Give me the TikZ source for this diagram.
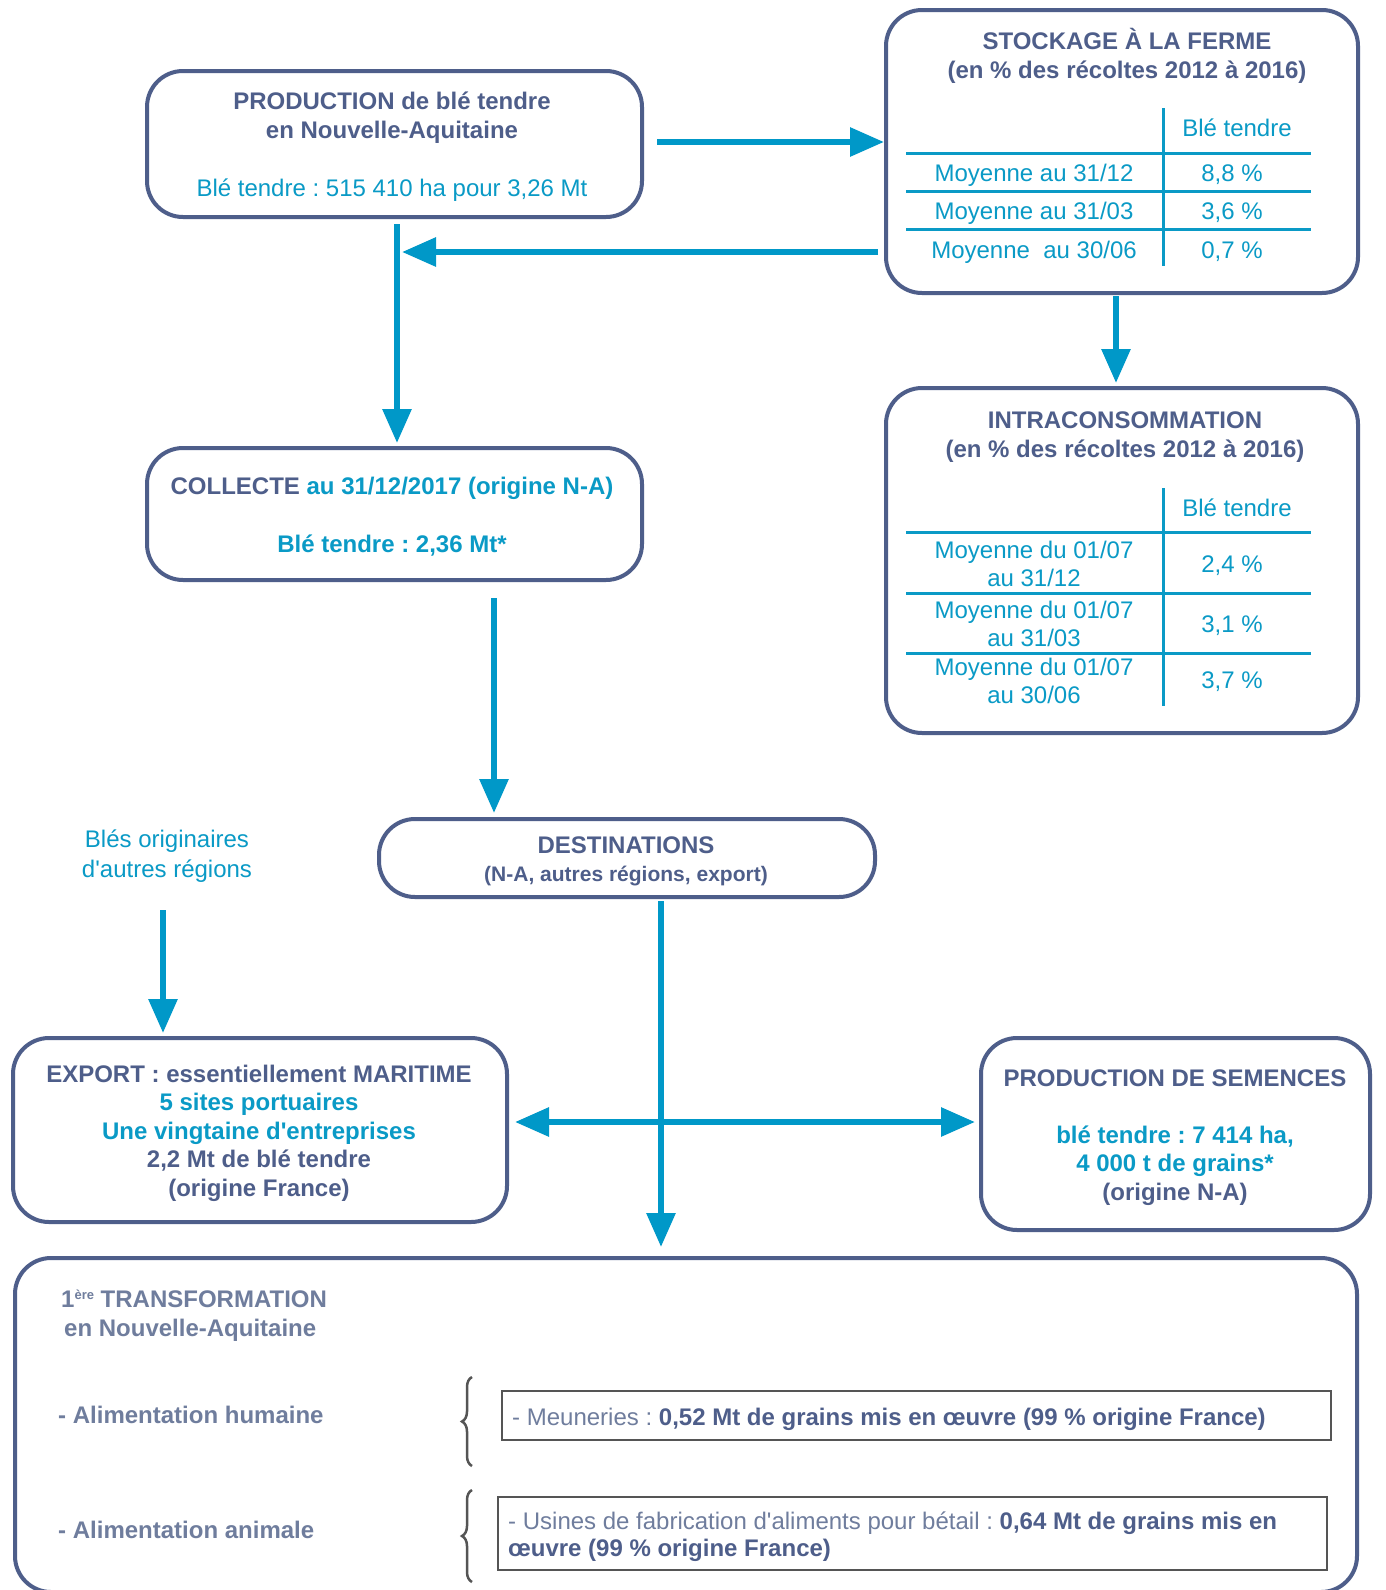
\documentclass[tikz,border=0pt]{standalone}
\usepackage{fontspec}
\setmainfont{Liberation Sans}
\usetikzlibrary{arrows.meta,decorations.pathreplacing}
\definecolor{navy}{HTML}{4E5E8A}
\definecolor{cyant}{HTML}{0A9AC6}
\definecolor{arrowc}{HTML}{0098C8}
\definecolor{graybl}{HTML}{6F7D9D}
\definecolor{boxgray}{HTML}{555555}
\frenchspacing
\begin{document}
\begin{tikzpicture}[x=1pt,y=-1pt,
  rbox/.style={draw=navy,line width=4pt,rounded corners=36pt,inner sep=0pt},
  flow/.style={draw=arrowc,line width=6pt,-{Triangle[length=34pt,width=28pt]}},
  dflow/.style={draw=arrowc,line width=6pt,{Triangle[length=34pt,width=28pt]}-{Triangle[length=34pt,width=28pt]}},
  ttl/.style={text=navy,font=\fontsize{24}{29}\selectfont\bfseries,align=center,inner sep=0pt},
  cyb/.style={text=cyant,font=\fontsize{24}{29}\selectfont\bfseries,align=center,inner sep=0pt},
  cyr/.style={text=cyant,font=\fontsize{24}{28}\selectfont,align=center,inner sep=0pt},
  tline/.style={draw=cyant,line width=3pt},
  gtxt/.style={text=graybl,font=\fontsize{24}{29}\selectfont\bfseries,inner sep=0pt,anchor=west},
  gbox/.style={draw=boxgray,line width=2.5pt,inner sep=0pt},
  brc/.style={draw=boxgray,line width=2.5pt,decorate,decoration={brace,amplitude=10pt}},
  mtxt/.style={text=graybl,font=\fontsize{24}{27}\selectfont,inner sep=0pt,align=left}]
\fill[white] (0,0) rectangle (1385,1590);
\useasboundingbox (0,0) rectangle (1385,1590);

% boxes
\node[rbox,minimum width=495pt,minimum height=146pt] (prod) at (394.5,144) {};
\node[rbox,minimum width=472pt,minimum height=283pt] (stock) at (1122,151.5) {};
\node[rbox,minimum width=472pt,minimum height=345pt] (intra) at (1122,560.5) {};
\node[rbox,minimum width=495pt,minimum height=132pt] (coll) at (394.5,514) {};
\node[rbox,minimum width=496pt,minimum height=78pt] (dest) at (627,858) {};
\node[rbox,minimum width=494pt,minimum height=184pt] (expo) at (260,1130) {};
\node[rbox,minimum width=389pt,minimum height=192pt] (sem) at (1175.5,1134) {};
\node[rbox,minimum width=1342pt,minimum height=334pt] (trans) at (686,1425) {};

% production text
\node[ttl] (p1) at (392,118) {PRODUCTION de blé tendre\\en Nouvelle-Aquitaine};
\node[cyr] (p2) at (392,190) {Blé tendre : 515 410 ha pour 3,26 Mt};

% stockage
\node[ttl] (s1) at (1127,56) {STOCKAGE À LA FERME\\(en \% des récoltes 2012 à 2016)};
\draw[tline] (1163,108) -- (1163,266);
\draw[tline] (906,153) -- (1311,153);
\draw[tline] (906,191) -- (1311,191);
\draw[tline] (906,229) -- (1311,229);
\node[cyr] (sh) at (1237,128) {Blé tendre};
\node[cyr] (sr1) at (1034,175) {Moyenne au 31/12};
\node[cyr] (sr2) at (1034,213) {Moyenne au 31/03};
\node[cyr] (sr3) at (1034,252) {Moyenne\ \ au 30/06};
\node[cyr] (sv1) at (1232,175) {8,8 \%};
\node[cyr] (sv2) at (1232,213) {3,6 \%};
\node[cyr] (sv3) at (1232,252) {0,7 \%};

% intraconsommation
\node[ttl] (i1) at (1125,437.5) {INTRACONSOMMATION\\(en \% des récoltes 2012 à 2016)};
\draw[tline] (1163,488) -- (1163,706);
\draw[tline] (906,532) -- (1311,532);
\draw[tline] (906,593) -- (1311,593);
\draw[tline] (906,653) -- (1311,653);
\node[cyr] (ih) at (1237,508) {Blé tendre};
\node[cyr] (ir1) at (1034,564) {Moyenne du 01/07\\au 31/12};
\node[cyr] (ir2) at (1034,624) {Moyenne du 01/07\\au 31/03};
\node[cyr] (ir3) at (1034,681) {Moyenne du 01/07\\au 30/06};
\node[cyr] (iv1) at (1232,566) {2,4 \%};
\node[cyr] (iv2) at (1232,626) {3,1 \%};
\node[cyr] (iv3) at (1232,682) {3,7 \%};

% collecte
\node[cyb] (c1) at (392,488) {\textcolor{navy}{COLLECTE} au 31/12/2017 (origine N-A)};
\node[cyb] (c2) at (392,546) {Blé tendre : 2,36 Mt*};

% destinations
\node[ttl] (d1) at (626,845) {DESTINATIONS};
\node[ttl,font=\fontsize{21}{25}\selectfont\bfseries] (d2) at (626,876) {(N-A, autres régions, export)};

% other regions
\node[cyr,font=\fontsize{24}{30}\selectfont] (oth) at (167,856) {Blés originaires\\d\textquotesingle autres régions};

% export
\node[ttl,font=\fontsize{24}{28.5}\selectfont\bfseries] (e1) at (259,1133) {EXPORT : essentiellement MARITIME\\\textcolor{cyant}{5 sites portuaires}\\\textcolor{cyant}{Une vingtaine d\textquotesingle entreprises}\\2,2 Mt de blé tendre\\(origine France)};

% semences
\node[ttl] (se1) at (1175,1078) {PRODUCTION DE SEMENCES};
\node[cyb,font=\fontsize{24}{28.5}\selectfont\bfseries] (se2) at (1175,1165.5) {blé tendre : 7 414 ha,\\4 000 t de grains*\\\textcolor{navy}{(origine N-A)}};

% transformation
\node[gtxt] (tr1) at (61,1299) {1\raisebox{0.6ex}{\fontsize{13}{13}\selectfont ère} TRANSFORMATION};
\node[gtxt] (tr2) at (64,1330) {en Nouvelle-Aquitaine};
\node[gtxt] (ah) at (58,1415) {- Alimentation humaine};
\node[gtxt] (aa) at (58,1530) {- Alimentation animale};
\draw[brc] (472,1466) -- (472,1377);
\draw[brc] (472,1582) -- (472,1490);
\node[gbox,minimum width=829pt,minimum height=49pt] (mb) at (916.5,1415.5) {};
\node[mtxt,anchor=west] (mt) at (512,1419) {- Meuneries : \textcolor{navy}{\bfseries 0,52 Mt de grains mis en œuvre (99 \% origine France)}};
\node[gbox,minimum width=829pt,minimum height=73pt] (ub) at (912.5,1533.5) {};
\node[mtxt,anchor=west] (ut) at (508,1536.5) {- Usines de fabrication d\textquotesingle aliments pour bétail : \textcolor{navy}{\bfseries 0,64 Mt de grains mis en}\\\textcolor{navy}{\bfseries œuvre (99 \% origine France)}};

% connectors
\coordinate (a2s) at (657,142);
\draw[flow] (a2s) -- (stock.west |- a2s);
\coordinate (s2a) at (878,252);
\coordinate (s2e) at (402,252);
\draw[flow] (s2a) -- (s2e);
\draw[flow] ([yshift=-5pt]prod.south -| 397,0) -- (397,443);
\draw[flow] ([yshift=-1pt]stock.south -| 1116,0) -- ([yshift=3pt]intra.north -| 1116,0);
\coordinate (cb) at (494,598);
\draw[flow] (cb) -- (494,813);
\coordinate (ob) at (163,910);
\draw[flow] (ob) -- ([yshift=3pt]expo.north -| ob);
\draw[flow] ([yshift=-2pt]dest.south -| 661,0) -- (661,1247);
\draw[dflow] ([xshift=6pt]expo.east |- 0,1122) -- ([xshift=-4pt]sem.west |- 0,1122);
\end{tikzpicture}
\end{document}
